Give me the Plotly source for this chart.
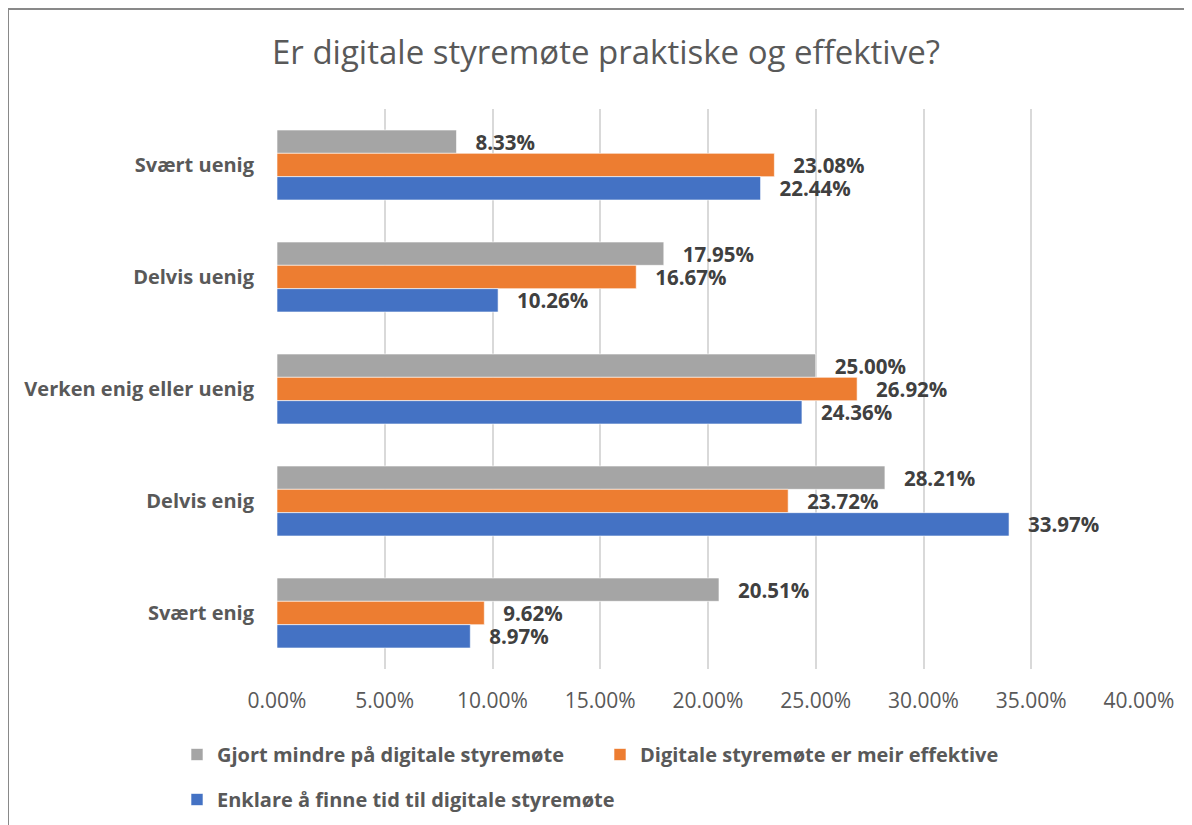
import plotly.graph_objects as go

categories = ["Svært uenig", "Delvis uenig", "Verken enig eller uenig", "Delvis enig", "Svært enig"]

gjort_mindre = [8.33, 17.95, 25.00, 28.21, 20.51]
meir_effektive = [23.08, 16.67, 26.92, 23.72, 9.62]
enklare_tid = [22.44, 10.26, 24.36, 33.97, 8.97]

series_names = [
    "Gjort mindre på digitale styremøte",
    "Digitale styremøte er meir effektive",
    "Enklare å finne tid til digitale styremøte",
]
x_ticks = [0, 5, 10, 15, 20, 25, 30, 35, 40]

# page body has an 8px margin, so the figure is drawn 8px in from the window edge
OFF = 8
W, H = 1192 - OFF, 825 - OFF
PLOT_L, PLOT_R, PLOT_T, PLOT_B = 277, 1139, 109, 669  # in window pixels
M_L, M_T = PLOT_L - OFF, PLOT_T - OFF
M_R, M_B = W - (PLOT_R - OFF), H - (PLOT_B - OFF)
PW, PH = PLOT_R - PLOT_L, PLOT_B - PLOT_T

FONT = "Open Sans"
TXT = "#595959"


def px_x(px):
    return (px - PLOT_L) / PW


def px_y(py):
    return (PLOT_B - py) / PH


colors = ["#A5A5A5", "#ED7D31", "#4472C4"]
values = [gjort_mindre, meir_effektive, enklare_tid]
legends = ["legend", "legend", "legend2"]

fig = go.Figure()
for name, vals, color, lg in zip(series_names, values, colors, legends):
    fig.add_trace(
        go.Bar(
            y=categories,
            x=[v / 100 for v in vals],
            orientation="h",
            name=name,
            marker=dict(color=color, line=dict(color="white", width=0.6)),
            text=[f"\u00a0\u00a0\u00a0{v:.2f}%" for v in vals],
            textposition="outside",
            textfont=dict(family=FONT, size=20.5, color="#404040", weight="bold"),
            constraintext="none",
            cliponaxis=False,
            legend=lg,
            hoverinfo="x+y+name",
        )
    )

fig.update_xaxes(
    range=[0, 0.40],
    tickvals=[t / 100 for t in x_ticks],
    ticktext=[f"{t:.2f}%" for t in x_ticks],
    showgrid=True,
    gridcolor="#D9D9D9",
    gridwidth=1.5,
    zeroline=False,
    showline=False,
    ticks="",
    ticklabelstandoff=17,
    tickfont=dict(family=FONT, size=21, color=TXT),
)
fig.update_yaxes(
    autorange="reversed",
    showgrid=False,
    zeroline=False,
    showline=False,
    ticks="",
    ticklabelstandoff=22,
    tickfont=dict(family=FONT, size=20, color=TXT, weight="bold"),
)

# chart border (only left and top edges fall inside the window)
fig.add_shape(type="line", xref="paper", yref="paper",
              x0=px_x(8), x1=px_x(8), y0=px_y(9), y1=px_y(830),
              line=dict(color="#898989", width=2))
fig.add_shape(type="line", xref="paper", yref="paper",
              x0=px_x(8), x1=px_x(1200), y0=px_y(9), y1=px_y(9),
              line=dict(color="#898989", width=2))

legend_font = dict(family=FONT, size=20, color=TXT, weight="bold")
fig.update_layout(
    width=W,
    height=H,
    margin=dict(l=M_L, r=M_R, t=M_T, b=M_B, autoexpand=False),
    paper_bgcolor="white",
    plot_bgcolor="white",
    barmode="group",
    bargap=0.375,
    bargroupgap=0,
    title=dict(
        text="Er digitale styremøte praktiske og effektive?",
        x=(606 - OFF) / W,
        xanchor="center",
        y=1 - (52 - OFF) / H,
        yanchor="middle",
        font=dict(family=FONT, size=33, color=TXT),
    ),
    legend=dict(
        orientation="h",
        x=px_x(177),
        xanchor="left",
        y=px_y(735),
        yanchor="top",
        entrywidth=378,
        entrywidthmode="pixels",
        font=legend_font,
        bgcolor="rgba(0,0,0,0)",
    ),
    legend2=dict(
        orientation="h",
        x=px_x(177),
        xanchor="left",
        y=px_y(780),
        yanchor="top",
        font=legend_font,
        bgcolor="rgba(0,0,0,0)",
    ),
    showlegend=True,
)

fig.write_html("out.html")
